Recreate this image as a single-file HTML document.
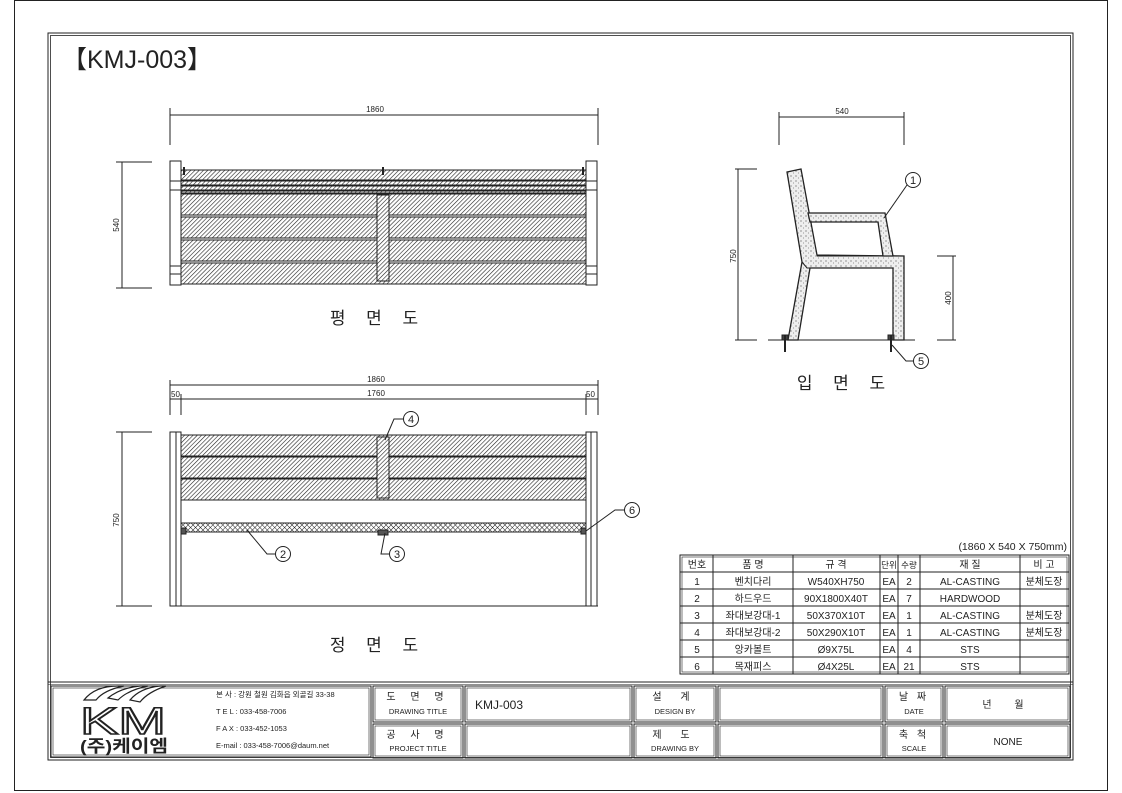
<!DOCTYPE html>
<html><head><meta charset="utf-8"><style>
html,body{margin:0;padding:0;background:#fff}
svg{display:block}
text{font-family:"Liberation Sans","Noto Sans CJK KR",sans-serif;fill:#222}
</style></head><body>
<svg width="1122" height="793" viewBox="0 0 1122 793" xmlns="http://www.w3.org/2000/svg">
<defs>
<pattern id="h" width="3" height="3" patternUnits="userSpaceOnUse" patternTransform="rotate(45)">
<rect width="3" height="3" fill="#fff"/><line x1="0" y1="0" x2="0" y2="3" stroke="#222" stroke-width="1.2"/></pattern>
<pattern id="x" width="3.5" height="3.5" patternUnits="userSpaceOnUse" patternTransform="rotate(45)">
<rect width="3.5" height="3.5" fill="#fff"/><line x1="0" y1="0" x2="0" y2="3.5" stroke="#222" stroke-width="1"/><line x1="0" y1="0" x2="3.5" y2="0" stroke="#222" stroke-width="1"/></pattern>
<pattern id="d" width="5" height="5" patternUnits="userSpaceOnUse">
<rect width="5" height="5" fill="#eee"/><circle cx="1" cy="1" r="0.6" fill="#555"/><circle cx="3.5" cy="3" r="0.5" fill="#777"/></pattern>
</defs>
<g fill="none" stroke="#222" stroke-width="1">
<rect x="14.5" y="0.5" width="1093" height="790"/>
<rect x="48" y="33" width="1025" height="727"/>
<rect x="50.5" y="35.5" width="1020" height="722" stroke-width="0.8"/>
</g>
<text x="62" y="68" font-size="25">【KMJ-003】</text>

<!-- PLAN VIEW -->
<g stroke="#222" fill="none" stroke-width="1">
<line x1="170" y1="115" x2="598" y2="115"/><line x1="170" y1="108" x2="170" y2="145"/><line x1="598" y1="108" x2="598" y2="145"/>
<line x1="122" y1="162" x2="122" y2="288"/><line x1="116" y1="162" x2="152" y2="162"/><line x1="116" y1="288" x2="152" y2="288"/>
<rect x="181" y="170" width="405" height="10" fill="url(#h)"/>
<rect x="181" y="181" width="405" height="4" fill="url(#h)"/>
<rect x="181" y="186" width="405" height="4" fill="url(#h)"/>
<rect x="181" y="191" width="405" height="2" fill="url(#h)"/>
<rect x="181" y="194" width="405" height="21" fill="url(#h)"/>
<rect x="181" y="217" width="405" height="21" fill="url(#h)"/>
<rect x="181" y="240" width="405" height="21" fill="url(#h)"/>
<rect x="181" y="263" width="405" height="21" fill="url(#h)"/>
<rect x="170" y="161" width="11" height="124" fill="#fff"/><line x1="170" y1="181" x2="181" y2="181"/><line x1="170" y1="190" x2="181" y2="190"/><line x1="170" y1="266" x2="181" y2="266"/><line x1="170" y1="274" x2="181" y2="274"/>
<rect x="586" y="161" width="11" height="124" fill="#fff"/><line x1="586" y1="181" x2="597" y2="181"/><line x1="586" y1="190" x2="597" y2="190"/><line x1="586" y1="266" x2="597" y2="266"/><line x1="586" y1="274" x2="597" y2="274"/>
<rect x="377" y="195" width="12" height="86" fill="url(#h)"/>
<line x1="184" y1="167" x2="184" y2="175" stroke-width="2"/><line x1="383" y1="167" x2="383" y2="175" stroke-width="2"/><line x1="583" y1="167" x2="583" y2="175" stroke-width="2"/>
</g>
<text x="375" y="112" font-size="8" text-anchor="middle">1860</text>
<text x="119" y="225" font-size="8" text-anchor="middle" transform="rotate(-90 119 225)">540</text>
<text x="378" y="324" font-size="17" text-anchor="middle" letter-spacing="8">평 면 도</text>

<!-- FRONT VIEW -->
<g stroke="#222" fill="none" stroke-width="1">
<line x1="170" y1="385" x2="598" y2="385"/><line x1="170" y1="399" x2="598" y2="399"/>
<line x1="170" y1="380" x2="170" y2="415"/><line x1="181" y1="394" x2="181" y2="415"/><line x1="586" y1="394" x2="586" y2="415"/><line x1="598" y1="380" x2="598" y2="415"/>
<line x1="122" y1="432" x2="122" y2="606"/><line x1="116" y1="432" x2="152" y2="432"/><line x1="116" y1="606" x2="152" y2="606"/>
<rect x="176" y="435" width="415" height="21" fill="url(#h)"/>
<rect x="176" y="457" width="415" height="21" fill="url(#h)"/>
<rect x="176" y="479" width="415" height="21" fill="url(#h)"/>
<rect x="176" y="523" width="415" height="9" fill="url(#x)"/>
<rect x="170" y="432" width="6" height="174" fill="#fff"/><rect x="176" y="432" width="5" height="174" fill="#fff"/>
<rect x="586" y="432" width="5" height="174" fill="#fff"/><rect x="591" y="432" width="6" height="174" fill="#fff"/>
<line x1="170" y1="606" x2="598" y2="606"/>
<rect x="377" y="437" width="12" height="61" fill="url(#h)"/>
<rect x="378" y="530" width="10" height="5" fill="#555"/><rect x="181" y="528" width="5" height="6" fill="#555"/><rect x="581" y="528" width="5" height="6" fill="#555"/>
<circle cx="411" cy="419" r="7.5"/><polyline points="403,419 394,419 385,440"/>
<circle cx="632" cy="510" r="7.5"/><polyline points="624,510 615,510 586,531"/>
<circle cx="283" cy="554" r="7.5"/><polyline points="275,554 267,554 247,530"/>
<circle cx="397" cy="554" r="7.5"/><polyline points="389,554 381,554 385,533"/>
</g>
<text x="376" y="382" font-size="8" text-anchor="middle">1860</text>
<text x="376" y="396" font-size="8" text-anchor="middle">1760</text>
<text x="171" y="397" font-size="8">50</text><text x="586" y="397" font-size="8">50</text>
<text x="119" y="520" font-size="8" text-anchor="middle" transform="rotate(-90 119 520)">750</text>
<g font-size="11" text-anchor="middle"><text x="411" y="423">4</text><text x="632" y="514">6</text><text x="283" y="558">2</text><text x="397" y="558">3</text></g>
<text x="378" y="651" font-size="17" text-anchor="middle" letter-spacing="8">정 면 도</text>

<!-- SIDE VIEW -->
<g stroke="#222" fill="none" stroke-width="1">
<line x1="779" y1="117" x2="904" y2="117"/><line x1="779" y1="112" x2="779" y2="145"/><line x1="904" y1="112" x2="904" y2="145"/>
<line x1="738" y1="169" x2="738" y2="340"/><line x1="735" y1="169" x2="757" y2="169"/><line x1="735" y1="340" x2="757" y2="340"/>
<line x1="953" y1="256" x2="953" y2="340"/><line x1="937" y1="256" x2="956" y2="256"/><line x1="937" y1="340" x2="956" y2="340"/>
<line x1="768" y1="340" x2="915" y2="340"/>
<polygon points="787,172 801,169 817,255 904,256 904,268 904,340 893,340 893,268 810,268 798,340 788,340 802,262" fill="url(#d)" stroke-width="1.3"/>
<polyline points="802,262 807,268 810,268" />
<polygon points="808,213 885,213 893,256 883,256 878,222 810,222" fill="url(#d)" stroke-width="1.3"/>
<line x1="817" y1="256" x2="893" y2="256"/>
<rect x="782" y="335" width="6" height="5" fill="#444"/><line x1="785" y1="335" x2="785" y2="352" stroke-width="2"/>
<rect x="888" y="335" width="6" height="5" fill="#444"/><line x1="891" y1="335" x2="891" y2="352" stroke-width="2"/>
<circle cx="913" cy="180" r="7.5"/><line x1="907" y1="185" x2="884" y2="218"/>
<circle cx="921" cy="361" r="7.5"/><polyline points="913,361 906,361 892,345"/>
</g>
<text x="842" y="114" font-size="8" text-anchor="middle">540</text>
<text x="736" y="256" font-size="8" text-anchor="middle" transform="rotate(-90 736 256)">750</text>
<text x="951" y="298" font-size="8" text-anchor="middle" transform="rotate(-90 951 298)">400</text>
<g font-size="11" text-anchor="middle"><text x="913" y="184">1</text><text x="921" y="365">5</text></g>
<text x="845" y="389" font-size="17" text-anchor="middle" letter-spacing="8">입 면 도</text>

<!-- TABLE -->
<text x="1067" y="550" font-size="10.5" text-anchor="end">(1860 X 540 X 750mm)</text>
<g stroke="#222" fill="none" stroke-width="1">
<rect x="680" y="555" width="389" height="119"/><rect x="682" y="557" width="385" height="115" stroke-width="0.6"/>
<line x1="680" y1="572" x2="1069" y2="572"/><line x1="680" y1="589" x2="1069" y2="589"/><line x1="680" y1="606" x2="1069" y2="606"/><line x1="680" y1="623" x2="1069" y2="623"/><line x1="680" y1="640" x2="1069" y2="640"/><line x1="680" y1="657" x2="1069" y2="657"/>
<line x1="713" y1="555" x2="713" y2="674"/><line x1="793" y1="555" x2="793" y2="674"/><line x1="880" y1="555" x2="880" y2="674"/><line x1="898" y1="555" x2="898" y2="674"/><line x1="920" y1="555" x2="920" y2="674"/><line x1="1020" y1="555" x2="1020" y2="674"/>
</g>
<g font-size="10" text-anchor="middle">
<text x="697" y="568">번호</text><text x="753" y="568">품  명</text><text x="836" y="568">규  격</text><text x="889" y="568" font-size="8.5">단위</text><text x="909" y="568" font-size="8.5">수량</text><text x="970" y="568">재  질</text><text x="1044" y="568">비 고</text>
<text x="697" y="585">1</text><text x="753" y="585">벤치다리</text><text x="836" y="585">W540XH750</text><text x="889" y="585">EA</text><text x="909" y="585">2</text><text x="970" y="585">AL-CASTING</text><text x="1044" y="585">분체도장</text>
<text x="697" y="602">2</text><text x="753" y="602">하드우드</text><text x="836" y="602">90X1800X40T</text><text x="889" y="602">EA</text><text x="909" y="602">7</text><text x="970" y="602">HARDWOOD</text>
<text x="697" y="619">3</text><text x="753" y="619">좌대보강대-1</text><text x="836" y="619">50X370X10T</text><text x="889" y="619">EA</text><text x="909" y="619">1</text><text x="970" y="619">AL-CASTING</text><text x="1044" y="619">분체도장</text>
<text x="697" y="636">4</text><text x="753" y="636">좌대보강대-2</text><text x="836" y="636">50X290X10T</text><text x="889" y="636">EA</text><text x="909" y="636">1</text><text x="970" y="636">AL-CASTING</text><text x="1044" y="636">분체도장</text>
<text x="697" y="653">5</text><text x="753" y="653">앙카볼트</text><text x="836" y="653">Ø9X75L</text><text x="889" y="653">EA</text><text x="909" y="653">4</text><text x="970" y="653">STS</text>
<text x="697" y="670">6</text><text x="753" y="670">목재피스</text><text x="836" y="670">Ø4X25L</text><text x="889" y="670">EA</text><text x="909" y="670">21</text><text x="970" y="670">STS</text>
</g>

<!-- TITLE BLOCK -->
<g stroke="#222" fill="none" stroke-width="1">
<line x1="48" y1="682" x2="1073" y2="682"/><line x1="48" y1="684.5" x2="1073" y2="684.5" stroke-width="0.6"/>
<rect x="51" y="686" width="320" height="71"/><rect x="53" y="688" width="316" height="67" stroke-width="0.6"/>
<rect x="373" y="686" width="90" height="36"/><rect x="375" y="688" width="86" height="32" stroke-width="0.6"/>
<rect x="373" y="724" width="90" height="34"/><rect x="375" y="726" width="86" height="30" stroke-width="0.6"/>
<rect x="465" y="686" width="167" height="36"/><rect x="467" y="688" width="163" height="32" stroke-width="0.6"/>
<rect x="465" y="724" width="167" height="34"/><rect x="467" y="726" width="163" height="30" stroke-width="0.6"/>
<rect x="634" y="686" width="82" height="36"/><rect x="636" y="688" width="78" height="32" stroke-width="0.6"/>
<rect x="634" y="724" width="82" height="34"/><rect x="636" y="726" width="78" height="30" stroke-width="0.6"/>
<rect x="718" y="686" width="165" height="36"/><rect x="720" y="688" width="161" height="32" stroke-width="0.6"/>
<rect x="718" y="724" width="165" height="34"/><rect x="720" y="726" width="161" height="30" stroke-width="0.6"/>
<rect x="885" y="686" width="58" height="36"/><rect x="887" y="688" width="54" height="32" stroke-width="0.6"/>
<rect x="885" y="724" width="58" height="34"/><rect x="887" y="726" width="54" height="30" stroke-width="0.6"/>
<rect x="945" y="686" width="125" height="36"/><rect x="947" y="688" width="121" height="32" stroke-width="0.6"/>
<rect x="945" y="724" width="125" height="34"/><rect x="947" y="726" width="121" height="30" stroke-width="0.6"/>
</g>
<g stroke="#222" stroke-width="1.2" fill="#fff">
<path d="M84,700 Q95,686 118,686 L124,686 Q104,690 96,700 Z"/>
<path d="M108,698 Q120,688 140,686 L148,686 Q128,690 118,700 Z"/>
<path d="M130,700 Q140,688 160,686 L166,686 Q148,692 140,702 Z"/>
</g>
<text x="80" y="734" font-size="38" textLength="86" lengthAdjust="spacingAndGlyphs" stroke="#222" stroke-width="1.6" style="fill:#fff">KM</text>
<text x="80" y="752" font-size="17" font-weight="bold" textLength="88" lengthAdjust="spacingAndGlyphs">(주)케이엠</text>
<g font-size="7.5">
<text x="216" y="697">본 사 : 강원 철원 김화읍 외골길 33-38</text>
<text x="216" y="714">T E L : 033-458-7006</text>
<text x="216" y="731">F A X : 033-452-1053</text>
<text x="216" y="748">E-mail : 033-458-7006@daum.net</text>
</g>
<g text-anchor="middle">
<text x="418" y="700" font-size="10" letter-spacing="6">도 면 명</text><text x="418" y="714" font-size="7.5">DRAWING TITLE</text>
<text x="418" y="738" font-size="10" letter-spacing="6">공 사 명</text><text x="418" y="751" font-size="7.5">PROJECT TITLE</text>
<text x="675" y="700" font-size="10" letter-spacing="8">설 계</text><text x="675" y="714" font-size="7.5">DESIGN BY</text>
<text x="675" y="738" font-size="10" letter-spacing="8">제 도</text><text x="675" y="751" font-size="7.5">DRAWING BY</text>
<text x="914" y="700" font-size="10" letter-spacing="3">날 짜</text><text x="914" y="714" font-size="7.5">DATE</text>
<text x="914" y="738" font-size="10" letter-spacing="3">축 척</text><text x="914" y="751" font-size="7.5">SCALE</text>
<text x="1008" y="708" font-size="10" letter-spacing="10">년 월</text>
<text x="1008" y="745" font-size="10">NONE</text>
</g>
<text x="475" y="709" font-size="12">KMJ-003</text>
</svg>
</body></html>
